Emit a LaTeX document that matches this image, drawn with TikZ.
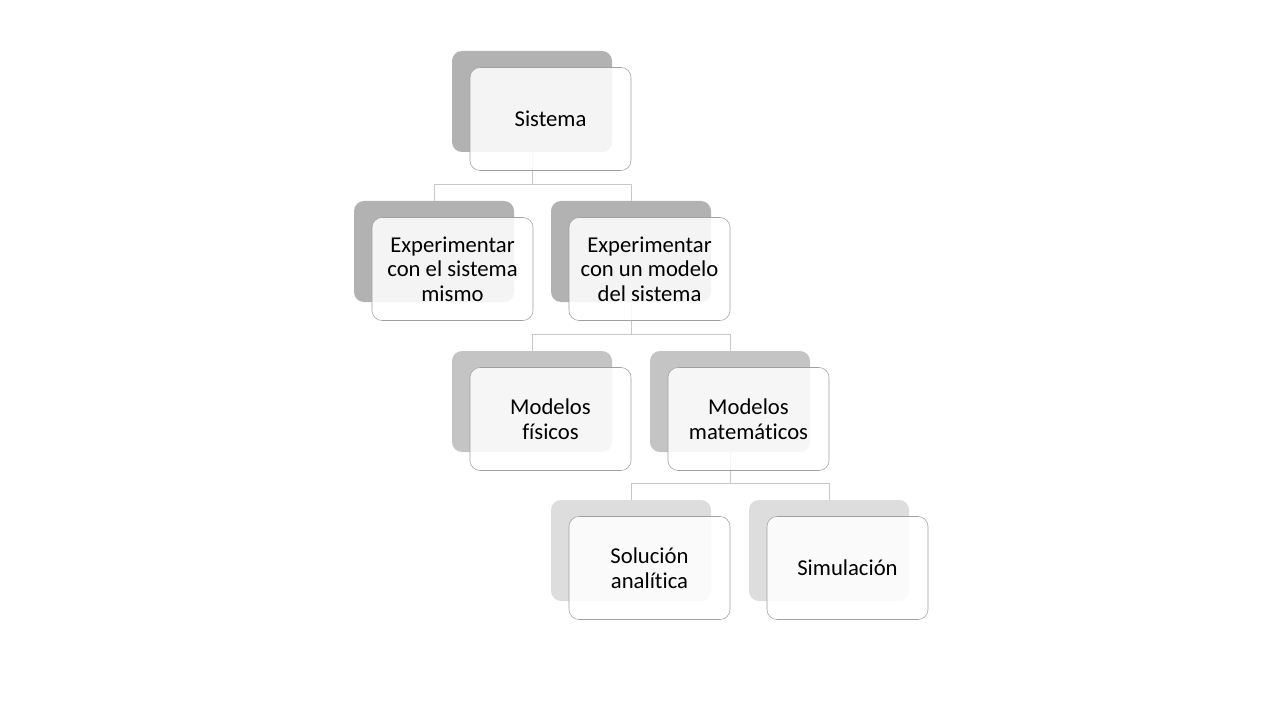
\documentclass[tikz,border=0pt]{standalone}
\usepackage{fontspec}
\setmainfont{Carlito}[Ligatures=NoCommon]
\usepackage{xcolor}
\usepackage{tikz}
\usetikzlibrary{positioning,calc,backgrounds}
\definecolor{backdark}{RGB}{178,178,178}
\definecolor{backmid}{RGB}{196,196,196}
\definecolor{backlight}{RGB}{221,221,221}
\definecolor{frontline}{RGB}{160,160,160}
\definecolor{linkgrey}{RGB}{200,200,200}
\tikzset{
  backbox/.style={draw=none,rounded corners=7.5pt,minimum width=120pt,minimum height=75.75pt,inner sep=0pt},
  frontbox/.style={draw=frontline,fill=white,fill opacity=0.86,text opacity=1,rounded corners=7.5pt,
    minimum width=120.75pt,minimum height=77.25pt,inner sep=0pt,align=center,
    font=\fontsize{17}{18.4}\selectfont},
  link/.style={draw=linkgrey,line width=0.75pt},
}
\begin{document}
\begin{tikzpicture}[x=0.75pt,y=-0.75pt]
  \useasboundingbox (0,0) rectangle (1280,720);
  % back plates
  \node[backbox,fill=backdark] (bsis) at (532,101.5) {};
  \node[backbox,fill=backdark] (bexp) at (434,251.5) {};
  \node[backbox,fill=backdark] (bmod) at (631,251.5) {};
  \node[backbox,fill=backmid] (bfis) at (532,401.5) {};
  \node[backbox,fill=backmid] (bmat) at (730,401.5) {};
  \node[backbox,fill=backlight] (bsol) at (631,550.5) {};
  \node[backbox,fill=backlight] (bsim) at (829,550.5) {};
  % front boxes
  \node[frontbox] (sis) at ([shift={(18.5,17.5)}]bsis.center) {Sistema};
  \node[frontbox] (exp) at ([shift={(18.5,17.5)}]bexp.center) {Experimentar\\con el sistema\\mismo};
  \node[frontbox] (mod) at ([shift={(18.5,17.5)}]bmod.center) {Experimentar\\con un modelo\\del sistema};
  \node[frontbox] (fis) at ([shift={(18.5,17.5)}]bfis.center) {Modelos\\físicos};
  \node[frontbox] (mat) at ([shift={(18.5,17.5)}]bmat.center) {Modelos\\matemáticos};
  \node[frontbox] (sol) at ([shift={(18.5,17.5)}]bsol.center) {Solución\\analítica};
  \node[frontbox] (sim) at ([shift={(18.5,17.5)}]bsim.center) {Simulación};
  % connectors
  \begin{scope}[on background layer]
    \draw[link] (bexp.north) -- ++(0,-16) -| (bsis.south);
    \draw[link] (bmod.north) -- ++(0,-16) -| (bsis.south);
    \draw[link] (bfis.north) -- ++(0,-16) -| (bmod.south);
    \draw[link] (bmat.north) -- ++(0,-16) -| (bmod.south);
    \draw[link] (bsol.north) -- ++(0,-16) -| (bmat.south);
    \draw[link] (bsim.north) -- ++(0,-16) -| (bmat.south);
  \end{scope}
\end{tikzpicture}
\end{document}
